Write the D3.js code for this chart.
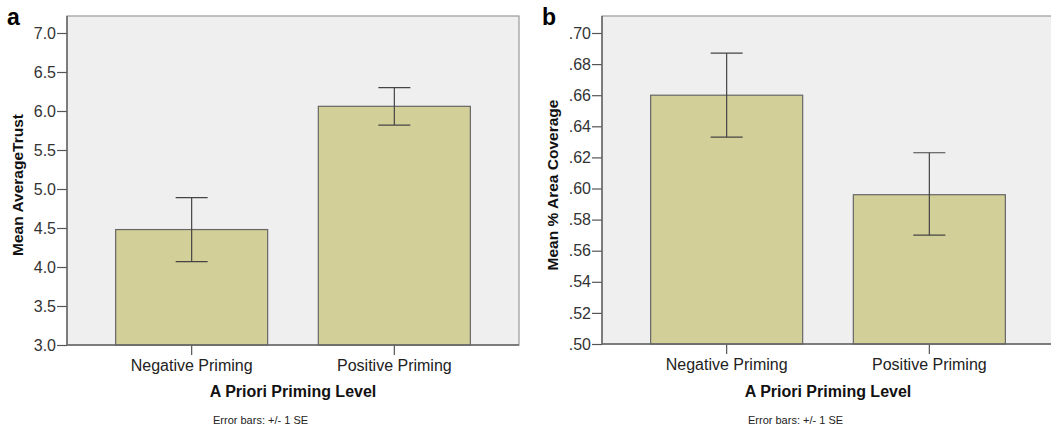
<!DOCTYPE html>
<html>
<head>
<meta charset="utf-8">
<script src="https://cdn.jsdelivr.net/npm/d3@7"></script>
<style>
  body { margin: 0; background: #fff; }
  svg { display: block; font-family: Arial, "Liberation Sans", sans-serif; }
</style>
</head>
<body>
<script>
// data
const categories = ["Negative Priming", "Positive Priming"];

const trustMean = [4.48, 6.06];
const trustLow = [4.07, 5.82];
const trustHigh = [4.89, 6.30];
const trustTicks = [3.0, 3.5, 4.0, 4.5, 5.0, 5.5, 6.0, 6.5, 7.0];

const areaMean = [0.660, 0.596];
const areaLow = [0.633, 0.570];
const areaHigh = [0.687, 0.623];
const areaTicks = [0.50, 0.52, 0.54, 0.56, 0.58, 0.60, 0.62, 0.64, 0.66, 0.68, 0.70];

const width = 1051;
const height = 428;

const svg = d3.select("body")
    .append("svg")
    .attr("width", width)
    .attr("height", height);

function drawPanel(opts) {
    const left = opts.left;
    const top = 16;
    const bottom = opts.bottom;
    const plotW = 452;

    const g = svg.append("g");

    const x = d3.scaleBand()
        .domain(categories)
        .range([left, left + plotW])
        .paddingInner(0.25)
        .paddingOuter(0.24);

    const y = d3.scaleLinear()
        .domain(opts.domain)
        .range([bottom, 33]);

    // plot background
    g.append("rect")
        .attr("x", left)
        .attr("y", top)
        .attr("width", plotW)
        .attr("height", bottom - top)
        .attr("fill", "#efefef")
        .attr("stroke", "#999")
        .attr("stroke-width", 1.2);

    // bars
    g.selectAll(".bar")
        .data(opts.mean)
        .join("rect")
        .attr("class", "bar")
        .attr("x", (d, i) => x(categories[i]))
        .attr("y", d => y(d))
        .attr("width", x.bandwidth())
        .attr("height", d => bottom - y(d))
        .attr("fill", "#d3cf98")
        .attr("stroke", "#666")
        .attr("stroke-width", 1.2);

    // error bars
    const cap = 16;
    const err = g.append("g")
        .attr("stroke", "#444")
        .attr("stroke-width", 1.2);
    opts.mean.forEach((m, i) => {
        const cx = x(categories[i]) + x.bandwidth() / 2;
        err.append("line")
            .attr("x1", cx).attr("x2", cx)
            .attr("y1", y(opts.high[i])).attr("y2", y(opts.low[i]));
        err.append("line")
            .attr("x1", cx - cap).attr("x2", cx + cap)
            .attr("y1", y(opts.high[i])).attr("y2", y(opts.high[i]));
        err.append("line")
            .attr("x1", cx - cap).attr("x2", cx + cap)
            .attr("y1", y(opts.low[i])).attr("y2", y(opts.low[i]));
    });

    // y axis
    const yAxis = g.append("g")
        .attr("transform", `translate(${left},0)`)
        .call(d3.axisLeft(y)
            .tickValues(opts.ticks)
            .tickSize(10)
            .tickPadding(1)
            .tickFormat(opts.format));
    yAxis.select(".domain").remove();
    yAxis.append("line")
        .attr("x1", 0).attr("x2", 0)
        .attr("y1", top).attr("y2", bottom)
        .attr("stroke", "#666")
        .attr("stroke-width", 1.5);
    yAxis.selectAll(".tick line").attr("stroke", "#555").attr("stroke-width", 1.2);
    yAxis.selectAll(".tick text")
        .attr("fill", "#333")
        .style("font-size", "16px")
        .style("font-family", "Arial, 'Liberation Sans', sans-serif");

    // x axis
    const xAxis = g.append("g")
        .attr("transform", `translate(0,${bottom})`)
        .call(d3.axisBottom(x).tickSize(10).tickPadding(5));
    xAxis.select(".domain").remove();
    xAxis.append("line")
        .attr("x1", left).attr("x2", left + plotW)
        .attr("stroke", "#666")
        .attr("stroke-width", 1.5);
    xAxis.selectAll(".tick line").attr("stroke", "#555").attr("stroke-width", 1.2);
    xAxis.selectAll(".tick text")
        .attr("fill", "#222")
        .style("font-size", "16px")
        .style("font-family", "Arial, 'Liberation Sans', sans-serif");

    // axis titles
    g.append("text")
        .attr("transform", `translate(${opts.yTitleX},185) rotate(-90)`)
        .attr("text-anchor", "middle")
        .style("font-size", "15.5px")
        .style("font-weight", "bold")
        .attr("fill", "#111")
        .text(opts.yTitle);

    g.append("text")
        .attr("x", left + plotW / 2)
        .attr("y", 397)
        .attr("text-anchor", "middle")
        .style("font-size", "16px")
        .style("font-weight", "bold")
        .attr("fill", "#111")
        .text("A Priori Priming Level");

    g.append("text")
        .attr("x", left + 146)
        .attr("y", 424)
        .style("font-size", "11px")
        .attr("fill", "#222")
        .text("Error bars: +/- 1 SE");

    // panel letter
    g.append("text")
        .attr("x", opts.letterX)
        .attr("y", 25)
        .style("font-size", "23px")
        .style("font-weight", "bold")
        .attr("fill", "#000")
        .text(opts.letter);
}

drawPanel({
    left: 67, bottom: 345,
    domain: [3, 7],
    mean: trustMean, low: trustLow, high: trustHigh,
    ticks: trustTicks,
    format: d3.format(".1f"),
    yTitle: "Mean AverageTrust", yTitleX: 23,
    letter: "a", letterX: 7
});

drawPanel({
    left: 602, bottom: 344,
    domain: [0.5, 0.7],
    mean: areaMean, low: areaLow, high: areaHigh,
    ticks: areaTicks,
    format: d => d3.format(".2f")(d).replace(/^0/, ""),
    yTitle: "Mean % Area Coverage", yTitleX: 558,
    letter: "b", letterX: 542
});
</script>
</body>
</html>
